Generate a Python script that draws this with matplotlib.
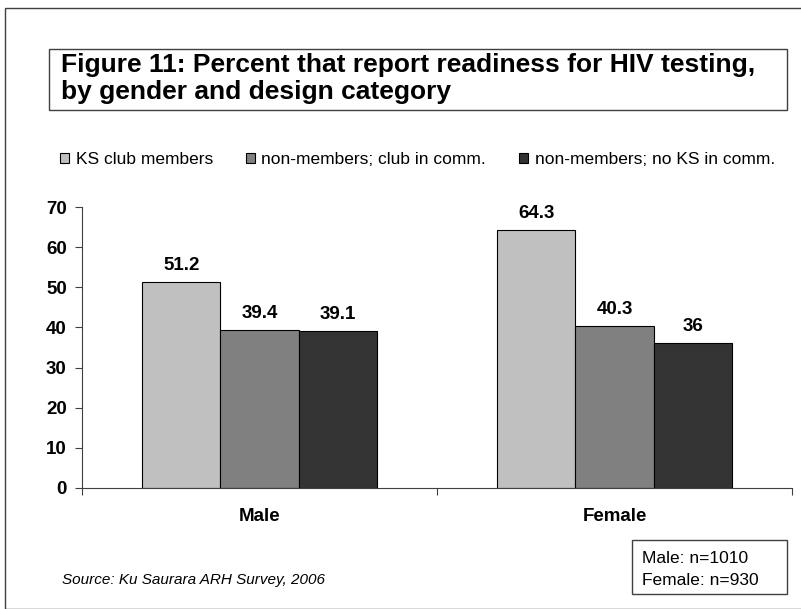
import numpy as np
import matplotlib.pyplot as plt
from matplotlib.patches import Rectangle

plt.rcParams['font.family'] = ['Liberation Sans', 'DejaVu Sans']

genders = ['Male', 'Female']
groups = ['KS club members', 'non-members; club in comm.', 'non-members; no KS in comm.']
ks_members = [51.2, 64.3]
club_in_comm = [39.4, 40.3]
no_ks_in_comm = [39.1, 36]
colors = ['#c0c0c0', '#808080', '#333333']
yticks = [0, 10, 20, 30, 40, 50, 60, 70]
title_lines = ['Figure 11: Percent that report readiness for HIV testing,', 'by gender and design category']
sample_sizes = ['Male: n=1010', 'Female: n=930']

W, H = 801, 609
fig = plt.figure(figsize=(W / 100, H / 100), dpi=100)


def fx(px):
    return px / W


def fy(py):
    return 1 - py / H


# outer frame
fig.patches.append(Rectangle((fx(5), 0), 1, fy(8), transform=fig.transFigure,
                             fill=False, edgecolor='#404040', linewidth=1))

# title box
fig.patches.append(Rectangle((fx(49), fy(110)), fx(738), 61 / H, transform=fig.transFigure,
                             fill=False, edgecolor='#404040', linewidth=1))
for line, base in zip(title_lines, [72, 99]):
    fig.text(fx(61), fy(base), line, fontsize=19, fontweight='bold', va='baseline', ha='left')

ax = fig.add_axes([fx(82), fy(488), fx(710), 281 / H])
x = np.arange(len(genders))
bw = 0.22
for i, (vals, c) in enumerate(zip([ks_members, club_in_comm, no_ks_in_comm], colors)):
    pos = x + (i - 1) * bw
    bars = ax.bar(pos, vals, bw, color=c, edgecolor='black', linewidth=0.8, label=groups[i])
    for b, v in zip(bars, vals):
        ax.text(b.get_x() + b.get_width() / 2, v + 2, f'{v:g}', ha='center', va='bottom',
                fontsize=13.5, fontweight='bold')

ax.set_xlim(-0.5, 1.5)
ax.set_ylim(0, 70)
ax.set_yticks(yticks)
ax.set_yticklabels([str(t) for t in yticks], fontsize=13.5, fontweight='bold')
ax.set_xticks([-0.5, 0.5, 1.5])
ax.set_xticklabels([])
ax.tick_params(axis='x', direction='out', length=5, color='#404040')
ax.tick_params(axis='y', direction='out', length=5, color='#404040', pad=6)
for g, xi in zip(genders, x):
    ax.text(xi, -7.2, g, ha='center', va='center', fontsize=13.5, fontweight='bold')
ax.spines['top'].set_visible(False)
ax.spines['right'].set_visible(False)
ax.spines['left'].set_color('#404040')
ax.spines['bottom'].set_color('#404040')

fig.legend(loc='center left', bbox_to_anchor=(fx(60), fy(160)), ncol=3, frameon=False,
           fontsize=12.5, handlelength=0.5, handleheight=0.5, handletextpad=0.4,
           columnspacing=1.9, borderpad=0, borderaxespad=0)

fig.text(fx(62), fy(580), 'Source: Ku Saurara ARH Survey, 2006', fontsize=11, style='italic',
         va='center', ha='left')

fig.patches.append(Rectangle((fx(632), fy(594)), fx(155), 54 / H, transform=fig.transFigure,
                             fill=False, edgecolor='#404040', linewidth=1))
for s, base in zip(sample_sizes, [563, 585]):
    fig.text(fx(642), fy(base), s, fontsize=12.5, va='baseline', ha='left')

fig.savefig('out.png', dpi=100)
